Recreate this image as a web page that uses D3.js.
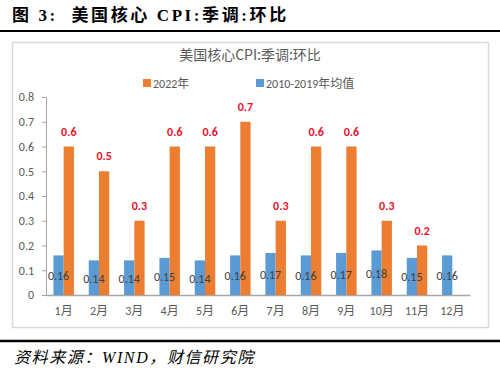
<!DOCTYPE html>
<html>
<head>
<meta charset="utf-8">
<style>
  body { margin: 0; background: #fff; }
  svg text { font-family: Calibri, Carlito, "Noto Sans CJK SC", "Noto Sans", sans-serif; }
</style>
</head>
<body>
<svg width="500" height="370"></svg>
<script src="https://d3js.org/d3.v7.min.js"></script>
<script>
var months = ["1月","2月","3月","4月","5月","6月","7月","8月","9月","10月","11月","12月"];
var series2022 = [0.6, 0.5, 0.3, 0.6, 0.6, 0.7, 0.3, 0.6, 0.6, 0.3, 0.2, null];
var avg1019 = [0.16, 0.14, 0.14, 0.15, 0.14, 0.16, 0.17, 0.16, 0.17, 0.18, 0.15, 0.16];
var yTicks = [0, 0.1, 0.2, 0.3, 0.4, 0.5, 0.6, 0.7, 0.8];
var keys = ["2010-2019年均值", "2022年"];

var svg = d3.select("svg");
var cjk = "'Noto Sans CJK SC', sans-serif";
var serif = "'Liberation Serif', 'Noto Sans CJK SC', serif";

// header
svg.append("text").attr("x", 12).attr("y", 21)
  .attr("font-size", 17).attr("font-weight", "bold").attr("fill", "#000")
  .attr("letter-spacing", 2.6)
  .style("font-family", serif)
  .style("white-space", "pre")
  .text("图 3:  美国核心 CPI:季调:环比");
svg.append("line").attr("x1", 0).attr("x2", 500).attr("y1", 31).attr("y2", 31)
  .attr("stroke", "#000").attr("stroke-width", 2);

// chart box
svg.append("rect").attr("x", 12.5).attr("y", 42.5).attr("width", 476).attr("height", 285)
  .attr("fill", "#fff").attr("stroke", "#d9d9d9").attr("stroke-width", 1.5);

svg.append("text").attr("x", 250).attr("y", 60).attr("text-anchor", "middle")
  .attr("font-size", 14).attr("fill", "#595959")
  .style("font-family", cjk)
  .text("美国核心CPI:季调:环比");

var x0 = d3.scaleBand().domain(months).range([46, 470]).paddingInner(0.42).paddingOuter(0.21);
var x1 = d3.scaleBand().domain(keys).range([0, x0.bandwidth()]);
var y = d3.scaleLinear().domain([0, 0.8]).range([295, 97]);
var color = d3.scaleOrdinal().domain(keys).range(["#5B9BD5", "#ED7D31"]);

// legend
var legendItems = [{k: "2022年", x: 143}, {k: "2010-2019年均值", x: 256}];
legendItems.forEach(function(d) {
  svg.append("rect").attr("x", d.x).attr("y", 79).attr("width", 8).attr("height", 8).attr("fill", color(d.k));
  svg.append("text").attr("x", d.x + 10).attr("y", 88).attr("font-size", 12).attr("fill", "#595959").text(d.k);
});

// y axis
var yAxis = svg.append("g").attr("transform", "translate(46,0)")
  .call(d3.axisLeft(y).tickValues(yTicks).tickSize(4).tickPadding(8)
    .tickFormat(function(d) { return d === 0 ? "0" : d3.format(".1f")(d); }));
yAxis.selectAll("path, line").attr("stroke", "#a6a6a6");
yAxis.selectAll("text").attr("font-size", 12).attr("fill", "#595959");

// x axis
var xAxis = svg.append("g").attr("transform", "translate(0,295)")
  .call(d3.axisBottom(x0).tickSize(0).tickPadding(11).tickSizeOuter(0));
xAxis.select("path").attr("stroke", "#a6a6a6").attr("stroke-width", 1.5);
xAxis.selectAll("text").attr("font-size", 12).attr("fill", "#595959");

// bars
var rows = months.map(function(m, i) { return {m: m, vals: [
  {key: keys[0], v: avg1019[i]}, {key: keys[1], v: series2022[i]}]}; });

var grp = svg.append("g").selectAll("g").data(rows).enter().append("g")
  .attr("transform", function(d) { return "translate(" + x0(d.m) + ",0)"; });

grp.selectAll("rect").data(function(d) { return d.vals.filter(function(e) { return e.v != null; }); })
  .enter().append("rect")
  .attr("x", function(d) { return x1(d.key); })
  .attr("y", function(d) { return y(d.v); })
  .attr("width", x1.bandwidth())
  .attr("height", function(d) { return y(0) - y(d.v); })
  .attr("fill", function(d) { return color(d.key); });

// labels: averages centered in bar
grp.append("text")
  .attr("x", x1(keys[0]) + x1.bandwidth() / 2)
  .attr("y", function(d) { return (y(d.vals[0].v) + y(0)) / 2 + 5; })
  .attr("text-anchor", "middle").attr("font-size", 12).attr("fill", "#404040")
  .text(function(d) { return d.vals[0].v.toFixed(2); });

// labels: 2022 above bar
grp.filter(function(d) { return d.vals[1].v != null; }).append("text")
  .attr("x", x1(keys[1]) + x1.bandwidth() / 2)
  .attr("y", function(d) { return y(d.vals[1].v) - 11; })
  .attr("text-anchor", "middle").attr("font-size", 12).attr("font-weight", "bold").attr("fill", "#e8112d")
  .text(function(d) { return d.vals[1].v.toFixed(1); });

// footer
svg.append("line").attr("x1", 0).attr("x2", 500).attr("y1", 341).attr("y2", 341)
  .attr("stroke", "#000").attr("stroke-width", 2.5);
svg.append("text").attr("x", 14).attr("y", 363)
  .attr("font-size", 16).attr("font-style", "italic").attr("fill", "#000")
  .attr("letter-spacing", 1.6)
  .style("font-family", serif)
  .text("资料来源：WIND，财信研究院");
</script>
</body>
</html>
